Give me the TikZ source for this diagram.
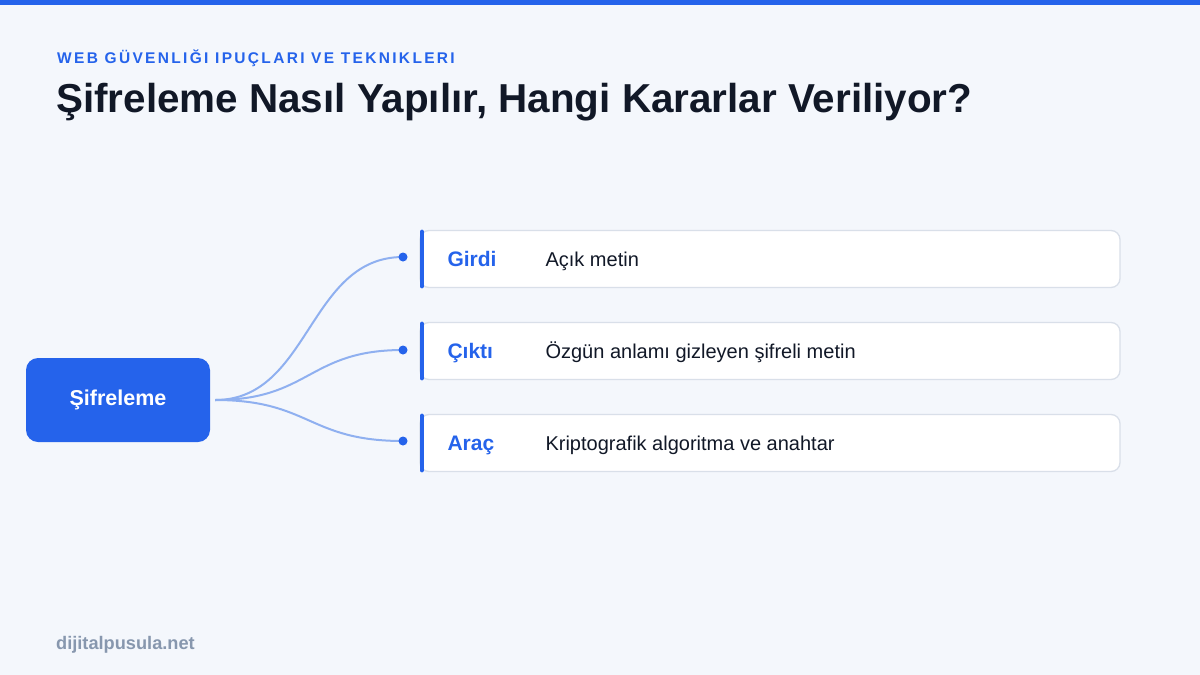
\documentclass[tikz,border=0pt]{standalone}
\usepackage{fontspec}
\setmainfont{Liberation Sans}
\usetikzlibrary{positioning,backgrounds}

\definecolor{brand}{HTML}{2563EB}
\definecolor{ink}{HTML}{111827}
\definecolor{pagebg}{HTML}{F4F7FC}
\definecolor{wirecol}{HTML}{8FB0F0}
\definecolor{rim}{HTML}{D9DFE9}
\definecolor{muted}{HTML}{8797AE}

\tikzset{
  hub/.style={fill=brand, rounded corners=12pt, minimum width=184pt, minimum height=84pt,
    text=white, font=\bfseries\fontsize{21.5}{26}\selectfont},
  card/.style={fill=white, draw=rim, line width=1.3pt, rounded corners=9pt,
    minimum width=700pt, minimum height=57pt},
  tag/.style={text=brand, inner sep=0pt, text height=15pt, text depth=0pt,
    font=\bfseries\fontsize{21}{25}\selectfont},
  note/.style={text=ink, inner sep=0pt, text height=14.3pt, text depth=0pt,
    font=\fontsize{20}{24}\selectfont},
  wire/.style={draw=wirecol, line width=2pt},
  dot/.style={circle, fill=brand, inner sep=0pt, minimum size=9pt}
}

\begin{document}
\begin{tikzpicture}[x=1pt,y=-1pt]
\useasboundingbox (0,0) rectangle (1200,675);

\node[anchor=base west, inner sep=0pt, text=brand,
  font=\bfseries\fontsize{15.5}{18}\selectfont\addfontfeature{LetterSpace=15}] (kicker) at (57,63)
  {WEB GÜVENLIĞI IPUÇLARI VE TEKNIKLERI};
\node[anchor=base west, inner sep=0pt, text=ink,
  font=\bfseries\fontsize{40.4}{46}\selectfont] (title) at (56,112)
  {Şifreleme Nasıl Yapılır, Hangi Kararlar Veriliyor?};

\node[hub] (hub) at (118,400) {Şifreleme};

\node[card] (c1) at (770,259) {};
\node[card] (c2) at (770,351) {};
\node[card] (c3) at (770,443) {};

\foreach \c in {c1,c2,c3}
  \draw[brand, line width=4.5pt, line cap=round] ([xshift=2.5pt,yshift=-2pt]\c.north west) -- ([xshift=2.5pt,yshift=2pt]\c.south west);

\node[dot] (d1) at (403,257) {};
\node[dot] (d2) at (403,350) {};
\node[dot] (d3) at (403,441) {};

\begin{scope}[on background layer]
\fill[pagebg] (0,0) rectangle (1200,675);
\fill[brand] (0,0) rectangle (1200,5);
\foreach \d in {d1,d2,d3}
  \draw[wire] ([xshift=5pt]hub.east) .. controls +(95,0) and +(-95,0) .. (\d.center);
\end{scope}

\node[tag, right=28pt of c1.west] (t1) {Girdi};
\node[tag, right=28pt of c2.west] (t2) {Çıktı};
\node[tag, right=28pt of c3.west] (t3) {Araç};

\node[note, right=126pt of c1.west] (n1) {Açık metin};
\node[note, right=126pt of c2.west] (n2) {Özgün anlamı gizleyen şifreli metin};
\node[note, right=126pt of c3.west] (n3) {Kriptografik algoritma ve anahtar};

\node[anchor=base west, inner sep=0pt, text=muted,
  font=\bfseries\fontsize{18.2}{21}\selectfont] (site) at (56,649) {dijitalpusula.net};
\end{tikzpicture}
\end{document}
